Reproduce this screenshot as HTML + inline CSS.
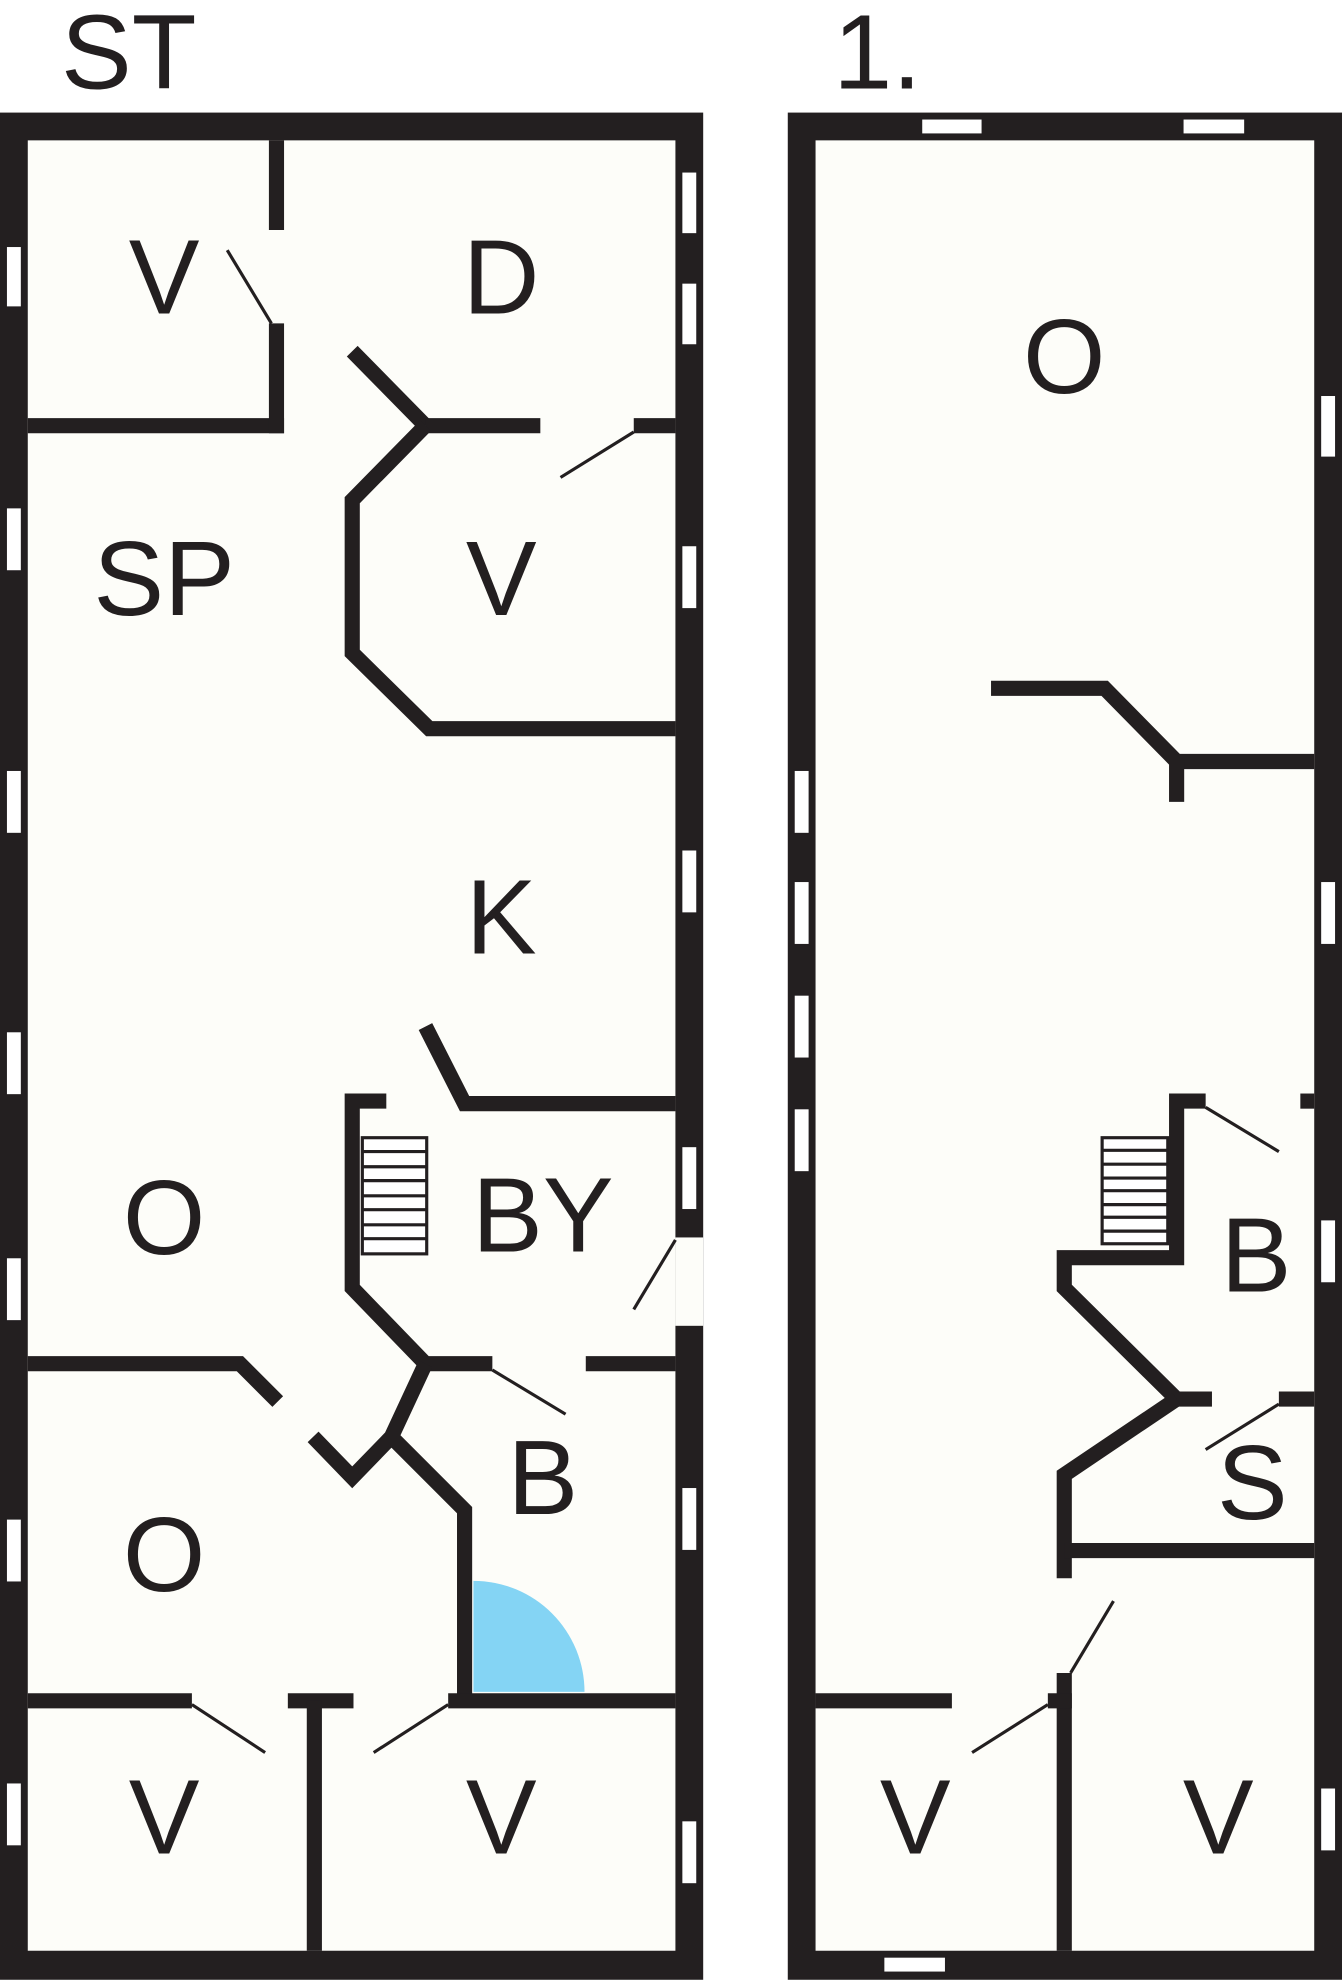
<!DOCTYPE html>
<html><head><meta charset="utf-8"><style>
html,body{margin:0;padding:0;background:#fff;}
svg{display:block;}
text{font-family:"Liberation Sans",sans-serif;font-size:84px;fill:#231f20;text-anchor:middle;}
</style></head><body>
<svg width="1342" height="1980" viewBox="0 0 1063 1568" xmlns="http://www.w3.org/2000/svg">
<rect width="1063" height="1568" fill="#fff"/>
<!-- left building -->
<rect x="0" y="89" width="557" height="1479" fill="#231f20"/>
<rect x="22" y="111" width="513" height="1434" fill="#fdfdf9"/>
<!-- right building -->
<rect x="624" y="89" width="439" height="1479" fill="#231f20"/>
<rect x="646" y="111" width="395" height="1434" fill="#fdfdf9"/>

<g fill="#fff" stroke="#231f20" stroke-width="1">
<!-- left wall windows -->
<rect x="5" y="195" width="12" height="48"/><rect x="5" y="402" width="12" height="50"/>
<rect x="5" y="610" width="12" height="50"/><rect x="5" y="817" width="12" height="50"/>
<rect x="5" y="996" width="12" height="50"/><rect x="5" y="1203" width="12" height="50"/>
<rect x="5" y="1412" width="12" height="50"/>
<rect x="540" y="136" width="12" height="49"/><rect x="540" y="224" width="12" height="49"/>
<rect x="540" y="432" width="12" height="50"/><rect x="540" y="673" width="12" height="50"/>
<rect x="540" y="908" width="12" height="50"/><rect x="540" y="1178" width="12" height="50"/>
<rect x="540" y="1442" width="12" height="50"/>
<!-- right building windows -->
<rect x="730" y="94" width="48" height="12"/><rect x="937" y="94" width="49" height="12"/>
<rect x="700" y="1550" width="49" height="12"/>
<rect x="629" y="610" width="12" height="50"/><rect x="629" y="698" width="12" height="50"/>
<rect x="629" y="788" width="12" height="50"/><rect x="629" y="878" width="12" height="50"/>
<rect x="1046" y="313" width="12" height="49"/><rect x="1046" y="698" width="12" height="50"/>
<rect x="1046" y="966" width="12" height="50"/><rect x="1046" y="1416" width="12" height="50"/>
</g>
<!-- door opening in outer wall (BY) -->
<rect x="535" y="980" width="22" height="70" fill="#fdfdf9"/>

<!-- blue quarter circle -->
<path d="M375 1340 L375 1252 A88 88 0 0 1 463 1340 Z" fill="#84d4f4"/>

<g stroke="#231f20" stroke-width="12" fill="none" stroke-linecap="butt" stroke-linejoin="miter">
<!-- left building interior walls -->
<line x1="22" y1="337" x2="225" y2="337"/>
<line x1="219" y1="111" x2="219" y2="182"/>
<line x1="219" y1="256" x2="219" y2="343"/>
<line x1="279" y1="278" x2="337" y2="337"/>
<line x1="337" y1="337" x2="428" y2="337"/>
<line x1="502" y1="337" x2="535" y2="337"/>
<polyline points="337,337 279,396 279,517 340,577 535,577"/>
<polyline points="337,813 368,874 535,874"/>
<polyline points="306,872 279,872 279,1020 337,1080 390,1080"/>
<line x1="464" y1="1080" x2="535" y2="1080"/>
<polyline points="22,1080 190,1080 220,1110"/>
<polyline points="248,1138 279,1170 310,1138 337,1080"/>
<polyline points="310,1138 368,1196 368,1345"/>
<line x1="22" y1="1347" x2="152" y2="1347"/>
<line x1="228" y1="1347" x2="280" y2="1347"/>
<line x1="355" y1="1347" x2="535" y2="1347"/>
<line x1="249" y1="1347" x2="249" y2="1545"/>
<!-- right building interior walls -->
<polyline points="785,545 875,545 932,603 1041,603"/>
<line x1="932" y1="603" x2="932" y2="635"/>
<polyline points="955,872 932,872 932,996 843,996 843,1020 932,1108 960,1108"/>
<line x1="1030" y1="872" x2="1041" y2="872"/>
<line x1="1013" y1="1108" x2="1041" y2="1108"/>
<polyline points="932,1108 843,1168 843,1250"/>
<line x1="843" y1="1228" x2="1041" y2="1228"/>
<line x1="843" y1="1325" x2="843" y2="1545"/>
<line x1="646" y1="1347" x2="754" y2="1347"/>
<line x1="830" y1="1347" x2="849" y2="1347"/>
</g>

<!-- door swings -->
<g stroke="#231f20" stroke-width="2.5">
<line x1="180" y1="198" x2="215" y2="256"/>
<line x1="444" y1="378" x2="502" y2="342"/>
<line x1="390" y1="1085" x2="448" y2="1120"/>
<line x1="502" y1="1037" x2="535" y2="982"/>
<line x1="152" y1="1350" x2="210" y2="1388"/>
<line x1="296" y1="1388" x2="355" y2="1350"/>
<line x1="955" y1="877" x2="1013" y2="912"/>
<line x1="955" y1="1148" x2="1013" y2="1112"/>
<line x1="848" y1="1325" x2="882" y2="1268"/>
<line x1="770" y1="1388" x2="830" y2="1350"/>
</g>

<!-- stairs -->
<g stroke="#231f20" stroke-width="2.5" fill="#fff">
<rect x="287" y="901" width="51" height="92"/>
<rect x="873" y="901" width="52" height="84"/>
</g>
<g stroke="#231f20" stroke-width="2.5">
<line x1="287" y1="912" x2="338" y2="912"/><line x1="287" y1="924" x2="338" y2="924"/>
<line x1="287" y1="935" x2="338" y2="935"/><line x1="287" y1="947" x2="338" y2="947"/>
<line x1="287" y1="958" x2="338" y2="958"/><line x1="287" y1="970" x2="338" y2="970"/>
<line x1="287" y1="981" x2="338" y2="981"/>
<line x1="873" y1="911" x2="925" y2="911"/><line x1="873" y1="922" x2="925" y2="922"/>
<line x1="873" y1="933" x2="925" y2="933"/><line x1="873" y1="943" x2="925" y2="943"/>
<line x1="873" y1="954" x2="925" y2="954"/><line x1="873" y1="964" x2="925" y2="964"/>
<line x1="873" y1="975" x2="925" y2="975"/>
</g>

<!-- labels -->
<text x="102" y="70">ST</text>
<text x="695" y="70">1.</text>
<text x="130" y="248">V</text>
<text x="397" y="248">D</text>
<text x="130" y="487">SP</text>
<text x="397" y="487">V</text>
<text x="397" y="755">K</text>
<text x="130" y="993">O</text>
<text x="430" y="991">BY</text>
<text x="430" y="1199">B</text>
<text x="130" y="1260">O</text>
<text x="130" y="1468">V</text>
<text x="397" y="1468">V</text>
<text x="843" y="311">O</text>
<text x="995" y="1023">B</text>
<text x="992" y="1203">S</text>
<text x="725" y="1468">V</text>
<text x="965" y="1468">V</text>
</svg>
</body></html>
